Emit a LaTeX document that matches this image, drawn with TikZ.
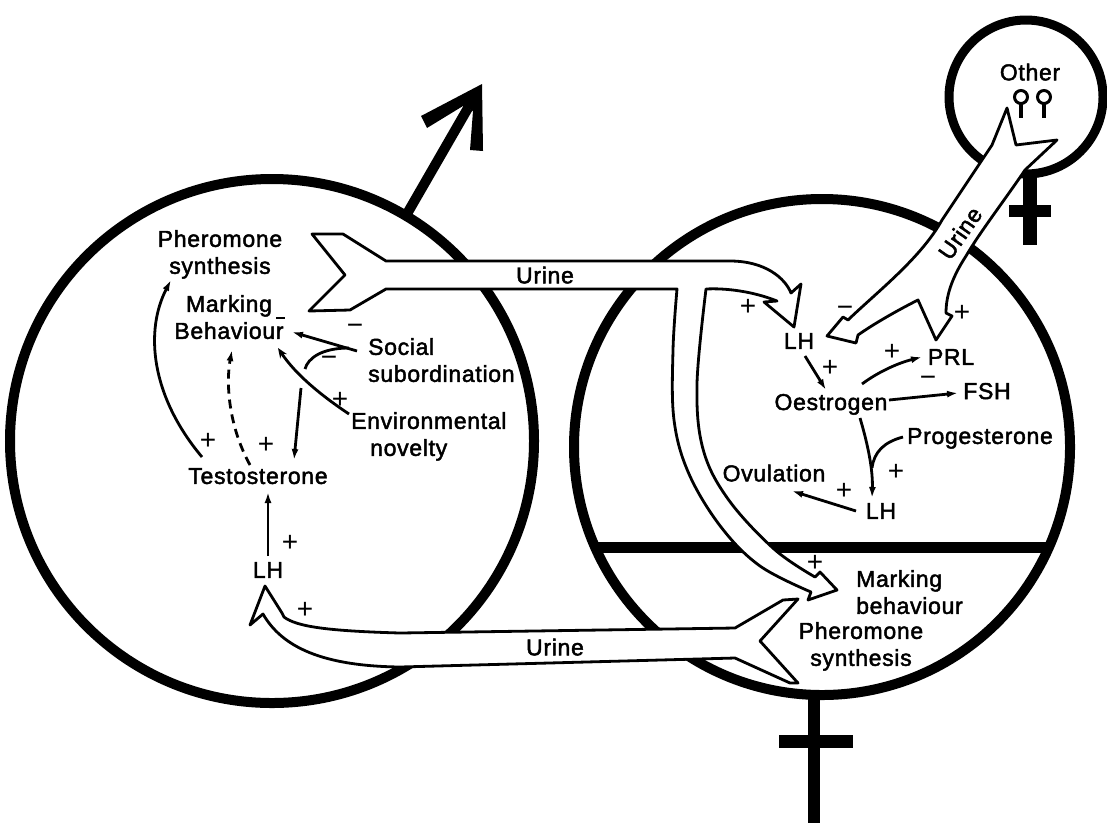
\documentclass[tikz,border=0pt]{standalone}
\usepackage{fontspec}
\setmainfont{Liberation Sans}[LetterSpace=3,FakeBold=2]
\newfontfamily\signfont{Liberation Sans}
\usetikzlibrary{arrows.meta}
\begin{document}
\begin{tikzpicture}[x=1pt,y=-1pt,
  lbl/.style={font=\fontsize{23}{27}\selectfont, inner sep=0pt, text depth=0pt},
  sgn/.style={font=\signfont\fontsize{28}{28}\selectfont, inner sep=0pt},
  band/.style={draw=black, fill=white, line width=2.8pt, line join=round},
  ring/.style={draw=black, line width=10pt},
  arr/.style={draw=black, line width=2.8pt, -{Latex[length=11pt,width=7pt]}},
  openarr/.style={draw=black, line width=2.8pt, -{Stealth[open,length=10pt,width=8pt,line width=1.6pt]}},
  link/.style={draw=black, line width=2.8pt},
  bar/.style={fill=black}
]
\useasboundingbox (0,0) rectangle (1107,823);
\fill[white] (0,0) rectangle (1107,823);

% ---- big circles and symbols
\draw[ring] (272,441) circle[radius=262];
\draw[ring] (822,447) circle[radius=248];
\draw[black, line width=11pt] (597,547) -- (1047,547);
% male arrow
\draw[black, line width=10pt] (404,219) -- (468,108);
\fill[black] (482,84) -- (421,116) -- (427,128) -- (463,106) -- (473,111) -- (470,150) -- (483,151) -- cycle;
% female cross (bottom)
\fill[bar] (808,690) rectangle (820,823);
\fill[bar] (779,735) rectangle (853,748);
% small female symbol
\draw[black, line width=9pt] (1026,97) circle[radius=77];
\fill[bar] (1023,170) rectangle (1037,245);
\fill[bar] (1009,205) rectangle (1051,217);
% two small female pins
\draw[line width=3pt] (1021,97) circle[radius=6.5];
\draw[line width=3.5pt] (1021,103.5) -- (1021,118);
\draw[line width=3pt] (1044,97) circle[radius=6.5];
\draw[line width=3.5pt] (1044,103.5) -- (1044,118);

% ---- hollow urine arrows
% male -> female (upper)
\path[band] (312,234) -- (343,234) -- (386,261) -- (730,261)
  .. controls (765,261) and (785,278) .. (791,293)
  -- (801,284) -- (794,327) -- (764,302) -- (777,301)
  .. controls (752,291) and (725,288) .. (706,289)
  -- plot[smooth, tension=0.6] coordinates {(706,289) (697,384) (703,449) (728,499) (774,549) (815,577)}
  -- (820,572) -- (837,590) -- (808,600) -- (811,592)
  -- plot[smooth, tension=0.6] coordinates {(811,592) (760,566) (721,527) (689,474) (674,420) (673,350) (677,289)}
  -- (386,289) -- (350,310) -- (309,311) -- (345,275) -- cycle;
% female -> male (lower)
\path[band] (798,599) -- (783,600) -- (735,628) -- (400,633)
  .. controls (330,631) and (297,627) .. (284,617)
  -- (282,613) -- (265,586) -- (250,625) -- (263,614)
  .. controls (282,647) and (322,666) .. (400,667)
  -- (735,658) -- (790,683) -- (798,683) -- (760,641) -- cycle;
% other females -> female
\path[band] (1007,108) -- (1016,145) -- (1057,140) -- (1025,170)
  .. controls (1004,201) and (980,232) .. (966,256)
  .. controls (951,279) and (946,297) .. (946,313)
  -- (952,316) -- (936,340) -- (918,300)
  .. controls (900,309) and (875,323) .. (858,335)
  -- (856,343) -- (827,336) -- (843,317) -- (848,320)
  .. controls (877,292) and (921,258) .. (942,220)
  -- (992,145) -- cycle;

\node[lbl] (urine1) at (545,275) {Urine};
\node[lbl] (urine2) at (555,647) {Urine};
\node[lbl, rotate=55] (urine3) at (960,233) {Urine};
\node[lbl] (other) at (1030,72) {Other};

% ---- male circle texts
\node[lbl, align=center] (pheroL) at (220,252) {Pheromone\\synthesis};
\node[lbl, align=center] (markL) at (229,317) {Marking\\Behaviour};
\node[lbl, align=left, anchor=west] (social) at (368,360) {Social\\subordination};
\node[lbl, align=left, anchor=west] (env) at (351,434) {Environmental\\\hspace*{19pt}novelty};
\node[lbl] (Testo) at (258,476) {Testosterone};
\node[lbl] (LHl) at (268,570) {LH};
\draw[line width=2pt] (276,318) -- (285,318);

\draw[arr] ([shift={(-56,-19)}]Testo.center) .. controls (150,395) and (145,330) .. ([shift={(-49,28)}]pheroL.center);
\draw[arr, dash pattern=on 9pt off 6pt] ([shift={(-8,-11)}]Testo.center) .. controls (228,425) and (226,382) .. ([shift={(3,33)}]markL.center);
\coordinate (cstart) at (301,388);
\draw[arr] (cstart) -- ([shift={(36,-16)}]Testo.center);
\draw[arr] ([shift={(0,-14)}]LHl.center) -- ([shift={(10,16)}]Testo.center);
\draw[arr] ([shift={(-11,-9)}]social.west) -- ([shift={(63,15)}]markL.center);
\coordinate (inh) at (305,369);
\draw[link] ([shift={(-19,-12)}]social.west) .. controls (322,348) and (308,358) .. (inh);
\draw[openarr] ([shift={(-2,-20)}]env.west) .. controls (322,396) and (296,375) .. ([shift={(49,31)}]markL.center);

\node[sgn] (s1) at (208,441) {+};
\node[sgn] (s2) at (266,445) {+};
\node[sgn] (s3) at (290,543) {+};
\node[sgn] (s4) at (305,610) {+};
\node[sgn] (s5) at (340,400) {+};
\node[sgn] (s6) at (355,329) {−};
\node[sgn] (s7) at (329,361) {−};

% ---- female circle texts
\node[lbl] (LHr) at (799,341) {LH};
\node[lbl] (Oe) at (831,402) {Oestrogen};
\node[lbl] (PRL) at (951,357) {PRL};
\node[lbl] (FSH) at (987,391) {FSH};
\node[lbl] (Prog) at (980,436) {Progesterone};
\node[lbl] (Ovul) at (774,473) {Ovulation};
\node[lbl] (LH2) at (881,511) {LH};
\node[lbl, align=left, anchor=west] (markR) at (856,592) {Marking\\behaviour};
\node[lbl, align=center] (pheroR) at (861,644) {Pheromone\\synthesis};

\draw[arr] ([shift={(6,15)}]LHr.center) -- ([shift={(-5,-12)}]Oe.center);
\draw[arr] ([shift={(31,-18)}]Oe.center) .. controls (878,372) and (898,363) .. ([shift={(-29,0)}]PRL.center);
\draw[arr] ([shift={(58,-2)}]Oe.center) -- ([shift={(-29,2)}]FSH.center);
\draw[arr] ([shift={(29,16)}]Oe.center) .. controls (868,445) and (873,470) .. ([shift={(-9,-13)}]LH2.center);
\coordinate (join) at (872,468);
\draw[link] ([shift={(-77,1)}]Prog.center) .. controls (884,442) and (874,452) .. (join);
\draw[arr] ([shift={(-25,0)}]LH2.center) -- ([shift={(18,18)}]Ovul.center);

\node[sgn] (s8) at (748,307) {+};
\node[sgn] (s9) at (845,311) {−};
\node[sgn] (s10) at (962,313) {+};
\node[sgn] (s11) at (830,368) {+};
\node[sgn] (s12) at (892,352) {+};
\node[sgn] (s13) at (928,381) {−};
\node[sgn] (s14) at (896,472) {+};
\node[sgn] (s15) at (844,491) {+};
\node[sgn] (s16) at (815,563) {+};
\end{tikzpicture}
\end{document}
